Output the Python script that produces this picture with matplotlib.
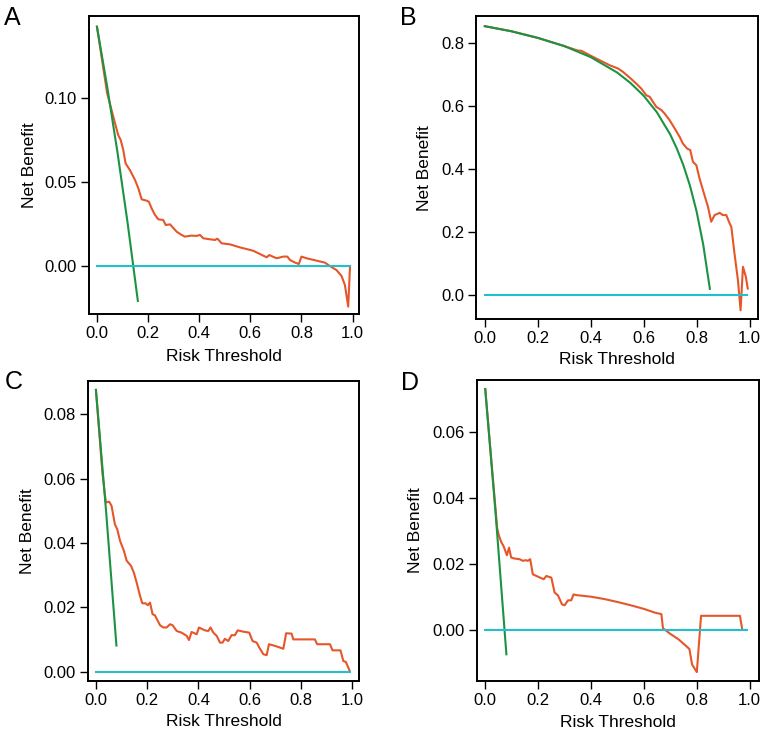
import matplotlib
matplotlib.use("Agg")
import matplotlib.pyplot as plt

plt.rcParams['font.family'] = ['Liberation Sans', 'DejaVu Sans']

ORANGE = "#E5562A"
GREEN = "#1A9342"
CYAN = "#22C0CF"

# ---------------- Panel A ----------------
a_model_t = [0.0, 0.040, 0.064, 0.083, 0.093, 0.103, 0.112, 0.129, 0.149, 0.162, 0.175, 0.194, 0.203,
             0.214, 0.227, 0.240, 0.259, 0.269, 0.286, 0.312, 0.331, 0.344, 0.370, 0.390, 0.403, 0.416,
             0.442, 0.462, 0.471, 0.488, 0.520, 0.559, 0.611, 0.650, 0.664, 0.674, 0.703, 0.729, 0.745,
             0.755, 0.775, 0.790, 0.800, 0.820, 0.859, 0.892, 0.911, 0.937, 0.957, 0.970, 0.983, 0.990]
a_model_nb = [0.1425, 0.1028, 0.0889, 0.0780, 0.0750, 0.0690, 0.0611, 0.0571, 0.0512, 0.0462, 0.0397,
              0.0389, 0.0383, 0.0343, 0.0304, 0.0278, 0.0274, 0.0244, 0.0248, 0.0204, 0.0185, 0.0175,
              0.0181, 0.0179, 0.0185, 0.0165, 0.0159, 0.0155, 0.0163, 0.0135, 0.0129, 0.0111, 0.0091,
              0.0062, 0.0052, 0.0065, 0.0046, 0.0056, 0.0056, 0.0036, 0.0020, 0.0012, 0.0056, 0.0046,
              0.0032, 0.0020, 0.0000, -0.0024, -0.0060, -0.0113, -0.0242, 0.0000]
a_all_t = [0.0, 0.04, 0.08, 0.12, 0.16]
a_all_nb = [0.1425, 0.1068, 0.0680, 0.0256, -0.0208]

# ---------------- Panel B ----------------
b_model_t = [0.0, 0.10, 0.20, 0.30, 0.35, 0.365, 0.396, 0.434, 0.472, 0.503, 0.522, 0.547, 0.572, 0.591,
             0.610, 0.623, 0.635, 0.648, 0.667, 0.679, 0.698, 0.717, 0.736, 0.748, 0.764, 0.776, 0.786,
             0.799, 0.811, 0.824, 0.843, 0.855, 0.868, 0.887, 0.899, 0.912, 0.925, 0.931, 0.943, 0.956,
             0.966, 0.975, 0.986, 0.993]
b_model_nb = [0.853, 0.837, 0.816, 0.790, 0.776, 0.775, 0.761, 0.745, 0.729, 0.719, 0.708, 0.690, 0.671,
              0.655, 0.634, 0.629, 0.613, 0.597, 0.587, 0.576, 0.555, 0.529, 0.502, 0.481, 0.465, 0.460,
              0.423, 0.412, 0.370, 0.333, 0.280, 0.233, 0.254, 0.261, 0.254, 0.254, 0.227, 0.217, 0.132,
              0.048, -0.048, 0.090, 0.058, 0.021]
b_all_t = [0.0, 0.10, 0.20, 0.30, 0.40, 0.50, 0.55, 0.60, 0.65, 0.70, 0.725, 0.75, 0.775, 0.80, 0.825, 0.85]
b_all_nb = [0.853, 0.837, 0.816, 0.790, 0.755, 0.706, 0.673, 0.6325, 0.580, 0.510, 0.4655, 0.412, 0.3467,
            0.265, 0.160, 0.020]

# ---------------- Panel C ----------------
c_model_t = [0.0, 0.025, 0.035, 0.039, 0.052, 0.061, 0.074, 0.083, 0.094, 0.109, 0.120, 0.137, 0.148,
             0.159, 0.172, 0.181, 0.194, 0.202, 0.211, 0.221, 0.230, 0.250, 0.263, 0.276, 0.289, 0.299,
             0.315, 0.334, 0.354, 0.363, 0.373, 0.393, 0.402, 0.425, 0.438, 0.447, 0.458, 0.471, 0.484,
             0.494, 0.503, 0.516, 0.529, 0.542, 0.553, 0.575, 0.598, 0.611, 0.627, 0.637, 0.653, 0.666,
             0.675, 0.698, 0.731, 0.742, 0.763, 0.770, 0.854, 0.863, 0.913, 0.923, 0.954, 0.965, 0.975,
             0.990]
c_model_nb = [0.0875, 0.0620, 0.0550, 0.0526, 0.0528, 0.0515, 0.0458, 0.0443, 0.0407, 0.0376, 0.0345,
              0.0329, 0.0308, 0.0277, 0.0236, 0.0213, 0.0213, 0.0207, 0.0215, 0.0179, 0.0176, 0.0145,
              0.0138, 0.0138, 0.0148, 0.0145, 0.0127, 0.0122, 0.0112, 0.0099, 0.0124, 0.0117, 0.0138,
              0.0129, 0.0127, 0.0138, 0.0122, 0.0112, 0.0091, 0.0091, 0.0103, 0.0096, 0.0114, 0.0114,
              0.0129, 0.0125, 0.0122, 0.0096, 0.0091, 0.0076, 0.0055, 0.0052, 0.0086, 0.0081, 0.0072,
              0.0120, 0.0119, 0.0101, 0.0101, 0.0086, 0.0086, 0.0067, 0.0067, 0.0034, 0.0031, 0.0003]
c_all_t = [0.0, 0.04, 0.08]
c_all_nb = [0.0875, 0.0495, 0.0082]

# ---------------- Panel D ----------------
d_model_t = [0.0, 0.045, 0.052, 0.061, 0.069, 0.076, 0.082, 0.090, 0.098, 0.111, 0.130, 0.142, 0.153,
             0.161, 0.170, 0.180, 0.199, 0.221, 0.231, 0.250, 0.262, 0.275, 0.290, 0.300, 0.313, 0.325,
             0.334, 0.344, 0.400, 0.450, 0.500, 0.550, 0.600, 0.640, 0.666, 0.672, 0.700, 0.730, 0.760,
             0.772, 0.782, 0.800, 0.816, 0.963, 0.972]
d_model_nb = [0.0732, 0.0310, 0.0286, 0.0266, 0.0255, 0.0240, 0.0227, 0.0250, 0.0220, 0.0217, 0.0215,
              0.0210, 0.0212, 0.0210, 0.0215, 0.0169, 0.0162, 0.0154, 0.0164, 0.0159, 0.0114, 0.0105,
              0.0078, 0.0075, 0.0090, 0.0090, 0.0108, 0.0106, 0.0101, 0.0094, 0.0085, 0.0075, 0.0064,
              0.0053, 0.0048, 0.0005, -0.0012, -0.0028, -0.0049, -0.0058, -0.0105, -0.0128, 0.0043,
              0.0043, 0.0000]
d_all_t = [0.0, 0.04, 0.08]
d_all_nb = [0.0732, 0.0346, -0.0074]

none_t = [0.0, 0.99]
none_nb = [0.0, 0.0]

x_ticks = [0.0, 0.2, 0.4, 0.6, 0.8, 1.0]

panels = [
    dict(letter="A", rect=[0.1164, 0.571, 0.3516, 0.407], mt=a_model_t, mnb=a_model_nb, at=a_all_t,
         anb=a_all_nb, xlim=(-0.030, 1.025), ylim=(-0.0286, 0.1488), yticks=[0.0, 0.05, 0.10],
         yfmt="{:.2f}", ylab_x=-0.194, xlab_y=-0.118, lpos=(4, 25)),
    dict(letter="B", rect=[0.621, 0.564, 0.367, 0.414], mt=b_model_t, mnb=b_model_nb, at=b_all_t,
         anb=b_all_nb, xlim=(-0.032, 1.031), ylim=(-0.076, 0.885), yticks=[0.0, 0.2, 0.4, 0.6, 0.8],
         yfmt="{:.1f}", ylab_x=-0.157, xlab_y=-0.108, lpos=(400, 25)),
    dict(letter="C", rect=[0.1147, 0.0697, 0.3533, 0.410], mt=c_model_t, mnb=c_model_nb, at=c_all_t,
         anb=c_all_nb, xlim=(-0.031, 1.026), ylim=(-0.0028, 0.0903),
         yticks=[0.0, 0.02, 0.04, 0.06, 0.08], yfmt="{:.2f}", ylab_x=-0.196, xlab_y=-0.11,
         lpos=(5, 389)),
    dict(letter="D", rect=[0.6223, 0.0697, 0.3669, 0.411], mt=d_model_t, mnb=d_model_nb, at=d_all_t,
         anb=d_all_nb, xlim=(-0.030, 1.034), ylim=(-0.0155, 0.0759),
         yticks=[0.0, 0.02, 0.04, 0.06], yfmt="{:.2f}", ylab_x=-0.193, xlab_y=-0.112,
         lpos=(401, 390)),
]

W, H = 767, 732
fig = plt.figure(figsize=(W / 100, H / 100), dpi=100)

for p in panels:
    ax = fig.add_axes(p["rect"])
    ax.plot(p["mt"], p["mnb"], color=ORANGE, lw=1.5, zorder=2)
    ax.plot(p["at"], p["anb"], color=GREEN, lw=1.5, zorder=3)
    ax.plot(none_t, none_nb, color=CYAN, lw=1.5, zorder=4)
    ax.set_xlim(*p["xlim"])
    ax.set_ylim(*p["ylim"])
    ax.set_xticks(x_ticks)
    ax.set_xticklabels([f"{v:.1f}" for v in x_ticks])
    ax.set_yticks(p["yticks"])
    ax.set_yticklabels([p["yfmt"].format(v) for v in p["yticks"]])
    ax.tick_params(direction="out", length=5.8, width=1.0, labelsize=12, pad=3, color="black")
    for s in ax.spines.values():
        s.set_linewidth(1.4)
        s.set_color("black")
    ax.set_xlabel("Risk Threshold", fontsize=12.5)
    ax.set_ylabel("Net Benefit", fontsize=12.5)
    ax.yaxis.set_label_coords(p["ylab_x"], 0.5)
    ax.xaxis.set_label_coords(0.5, p["xlab_y"])
    fig.text(p["lpos"][0] / W, 1 - p["lpos"][1] / H, p["letter"], fontsize=18, ha="left",
             va="baseline")

fig.savefig("out.png", dpi=100)
